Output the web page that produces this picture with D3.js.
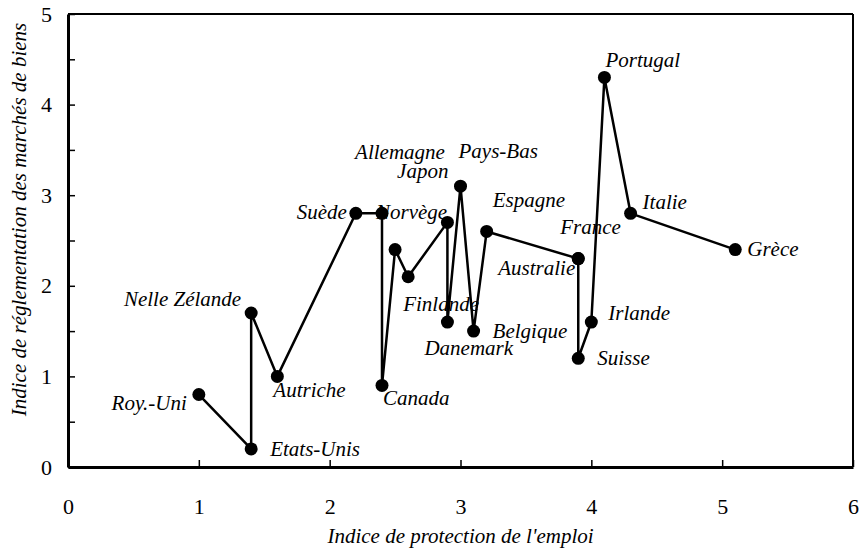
<!DOCTYPE html>
<html>
<head>
<meta charset="utf-8">
<script src="https://cdn.jsdelivr.net/npm/d3@7"></script>
<style>
  body { margin: 0; background: #fff; }
  svg text { font-family: 'Liberation Serif', 'Times New Roman', Times, 'DejaVu Serif', serif; fill: #000; }
</style>
</head>
<body>
<svg width="865" height="548"></svg>
<script>
var svg = d3.select('svg');

var width = +svg.attr('width');
var height = +svg.attr('height');

const serif = "'Liberation Serif', 'Times New Roman', Times, 'DejaVu Serif', serif";

// données (ordre du tracé)
const pays = ["Roy.-Uni", "Etats-Unis", "Nelle Zélande", "Autriche", "Suède", "Norvège", "Canada",
	"Allemagne", "Finlande", "Japon", "Danemark", "Pays-Bas", "Belgique", "Espagne",
	"Australie", "France", "Suisse", "Irlande", "Portugal", "Italie", "Grèce"];
const emploi = [1.0, 1.4, 1.4, 1.6, 2.2, 2.4, 2.4, 2.5, 2.6, 2.9, 2.9, 3.0, 3.1, 3.2, 3.9, 3.9, 3.9, 4.0, 4.1, 4.3, 5.1];
const biens = [0.8, 0.2, 1.7, 1.0, 2.8, 2.8, 0.9, 2.4, 2.1, 2.7, 1.6, 3.1, 1.5, 2.6, 2.3, 2.3, 1.2, 1.6, 4.3, 2.8, 2.4];
const xTicks = [0, 1, 2, 3, 4, 5, 6];
const yTicks = [0, 0.5, 1, 1.5, 2, 2.5, 3, 3.5, 4, 4.5, 5];

// placement des étiquettes (décalage par rapport au point)
const etiquettes = {
	"Roy.-Uni": [-12, 15, "end"],
	"Etats-Unis": [19, 7, "start"],
	"Nelle Zélande": [-10, -7, "end"],
	"Autriche": [-4, 21, "start"],
	"Suède": [-9, 6, "end"],
	"Norvège": [-6, 6, "start"],
	"Canada": [1, 20, "start"],
	"Allemagne": [-40, -91, "start"],
	"Finlande": [-5, 34, "start"],
	"Japon": [1, -44, "end"],
	"Danemark": [-23, 33, "start"],
	"Pays-Bas": [-2, -28, "start"],
	"Belgique": [19, 7, "start"],
	"Espagne": [6, -24, "start"],
	"Australie": [-3, 16, "end"],
	"France": [-18, -25, "start"],
	"Suisse": [19, 7, "start"],
	"Irlande": [17, -2, "start"],
	"Portugal": [1, -10, "start"],
	"Italie": [12, -4, "start"],
	"Grèce": [12, 6, "start"]
};

const data = pays.map((p, i) => ({pays: p, x: emploi[i], y: biens[i]}));

const margin = {top: 14, right: 12, bottom: 81, left: 68};
const innerWidth = width - margin.left - margin.right;
const innerHeight = height - margin.top - margin.bottom;

const xScale = d3.scaleLinear().domain([0, 6]).range([0, innerWidth]);
const yScale = d3.scaleLinear().domain([0, 5]).range([innerHeight, 0]);

const g = svg.append('g')
	.attr('transform', `translate(${margin.left}, ${margin.top})`);

// cadre haut et droite
g.append('line')
	.attr('x1', 0).attr('x2', innerWidth).attr('y1', 0).attr('y2', 0)
	.attr('stroke', '#000').attr('stroke-width', 2);
g.append('line')
	.attr('x1', innerWidth).attr('x2', innerWidth).attr('y1', 0).attr('y2', innerHeight)
	.attr('stroke', '#000').attr('stroke-width', 2);

// axes
const yAxis = g.append('g')
	.call(d3.axisLeft(yScale)
		.tickValues(yTicks)
		.tickSizeInner(-7)
		.tickSizeOuter(0)
		.tickPadding(16)
		.tickFormat(d => Number.isInteger(d) ? d : ""));
const xAxis = g.append('g')
	.attr('transform', `translate(0,${innerHeight})`)
	.call(d3.axisBottom(xScale)
		.tickValues(xTicks)
		.tickSizeInner(-7)
		.tickSizeOuter(0)
		.tickPadding(31)
		.tickFormat(d3.format('d')));

[yAxis, xAxis].forEach(a => {
	a.attr('font-family', serif);
	a.select('.domain').attr('stroke-width', 3);
	a.selectAll('.tick line').attr('stroke-width', 1.5);
	a.selectAll('.tick text')
		.attr('font-family', serif)
		.style('font-family', serif)
		.style('font-size', '22px');
});

// titres des axes
svg.append('text')
	.attr('x', margin.left + xScale(3))
	.attr('y', 543)
	.attr('text-anchor', 'middle')
	.style('font-family', serif)
	.style('font-size', '21px')
	.style('font-style', 'italic')
	.text("Indice de protection de l'emploi");

svg.append('text')
	.attr('transform', `translate(26, ${margin.top + yScale(2.5) - 21}) rotate(-90)`)
	.attr('text-anchor', 'middle')
	.style('font-family', serif)
	.style('font-size', '21px')
	.style('font-style', 'italic')
	.text("Indice de réglementation des marchés de biens");

// ligne reliant les pays
const line = d3.line()
	.x(d => xScale(d.x))
	.y(d => yScale(d.y));
g.append('path')
	.datum(data)
	.attr('d', line)
	.attr('fill', 'none')
	.attr('stroke', '#000')
	.attr('stroke-width', 2.5)
	.attr('stroke-linejoin', 'round');

// points
g.selectAll('circle').data(data)
	.enter().append('circle')
	.attr('cx', d => xScale(d.x))
	.attr('cy', d => yScale(d.y))
	.attr('r', 6.5)
	.attr('fill', '#000');

// étiquettes
g.selectAll('text.pays').data(data)
	.enter().append('text')
	.attr('class', 'pays')
	.attr('x', d => xScale(d.x) + etiquettes[d.pays][0])
	.attr('y', d => yScale(d.y) + etiquettes[d.pays][1])
	.attr('text-anchor', d => etiquettes[d.pays][2])
	.style('font-family', serif)
	.style('font-size', '21px')
	.style('font-style', 'italic')
	.text(d => d.pays);
</script>
</body>
</html>
